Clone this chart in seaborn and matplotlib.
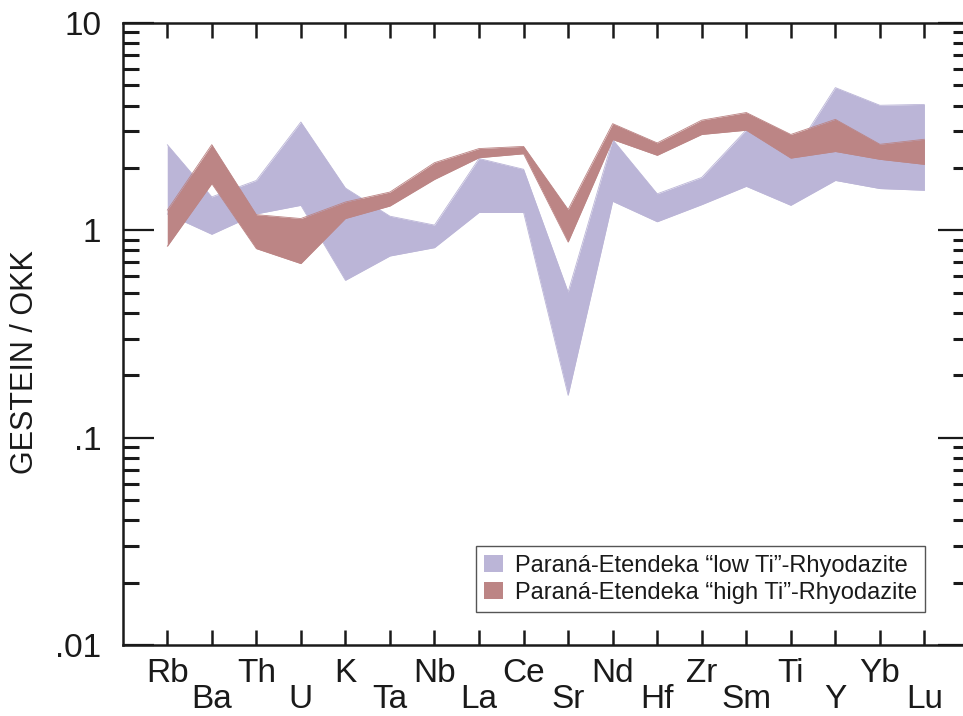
import numpy as np
import pandas as pd
import matplotlib
matplotlib.use("Agg")
import matplotlib.pyplot as plt
import seaborn as sns
from matplotlib.ticker import FixedLocator, NullFormatter

elements = ["Rb", "Ba", "Th", "U", "K", "Ta", "Nb", "La", "Ce", "Sr",
            "Nd", "Hf", "Zr", "Sm", "Ti", "Y", "Yb", "Lu"]

low_ti_upper = [2.59, 1.45, 1.74, 3.33, 1.60, 1.17, 1.06, 2.22, 1.97, 0.504,
                2.74, 1.50, 1.80, 3.05, 2.25, 4.88, 4.01, 4.05]
low_ti_lower = [1.20, 0.957, 1.20, 1.32, 0.574, 0.752, 0.825, 1.22, 1.22, 0.160,
                1.38, 1.10, 1.33, 1.63, 1.32, 1.74, 1.59, 1.56]

high_ti_upper = [1.25, 2.59, 1.19, 1.14, 1.37, 1.53, 2.12, 2.48, 2.54, 1.26,
                 3.27, 2.64, 3.40, 3.70, 2.90, 3.43, 2.60, 2.75]
high_ti_lower = [0.837, 1.68, 0.816, 0.691, 1.14, 1.31, 1.76, 2.24, 2.34, 0.878,
                 2.74, 2.30, 2.90, 3.04, 2.23, 2.40, 2.20, 2.08]

series_names = ["Paraná-Etendeka \u201clow Ti\u201d-Rhyodazite",
                "Paraná-Etendeka \u201chigh Ti\u201d-Rhyodazite"]
y_tick_values = [0.01, 0.1, 1, 10]
y_tick_labels = [".01", ".1", "1", "10"]
y_label = "GESTEIN / OKK"

colors = ["#BBB5D7", "#BC8585"]

sns.set_theme(style="ticks")
plt.rcParams["font.family"] = ["Liberation Sans", "DejaVu Sans"]
ink = "#1a1a1a"

W, H = 963, 716
fig = plt.figure(figsize=(W / 100, H / 100), dpi=100)
ax_left, ax_right, ax_top, ax_bottom = 122.7, 969.0, 23.0, 645.0
ax = fig.add_axes([ax_left / W, 1 - ax_bottom / H,
                   (ax_right - ax_left) / W, (ax_bottom - ax_top) / H])

x = np.arange(1, len(elements) + 1)
df = pd.DataFrame({
    "pos": np.concatenate([x, x, x, x]),
    "value": np.concatenate([low_ti_upper, low_ti_lower, high_ti_upper, high_ti_lower]),
    "edge": (["low_u"] * len(x) + ["low_l"] * len(x) + ["high_u"] * len(x) + ["high_l"] * len(x)),
})

bands = [(low_ti_lower, low_ti_upper), (high_ti_lower, high_ti_upper)]
edge_keys = [("low_u", "low_l"), ("high_u", "high_l")]
for (lo, hi), name, col, keys in zip(bands, series_names, colors, edge_keys):
    ax.fill_between(x, lo, hi, color=col, linewidth=0, label=name, zorder=2)
    sub = df[df["edge"].isin(keys)]
    sns.lineplot(data=sub, x="pos", y="value", units="edge", estimator=None,
                 color=col, linewidth=0.6, legend=False, ax=ax, zorder=2)

ax.set_yscale("log")
ax.set_ylim(0.01, 10)
ax.set_xlim(0, 19)
ax.set_xlabel("")

# y ticks
ax.yaxis.set_major_locator(FixedLocator(y_tick_values))
ax.set_yticklabels(y_tick_labels)
minor_vals = [m * 10.0 ** e for e in (-2, -1, 0) for m in range(2, 10)]
ax.yaxis.set_minor_locator(FixedLocator(minor_vals))
ax.yaxis.set_minor_formatter(NullFormatter())
ax.tick_params(axis="y", which="major", direction="in", length=22.3, width=1.6,
               left=True, right=True, labelsize=24, pad=15.5, colors=ink)
ax.tick_params(axis="y", which="minor", direction="in", length=11.5, width=2.2,
               left=True, right=True, colors=ink)

# x ticks: alternate label rows via major (upper row) / minor (lower row)
ax.xaxis.set_major_locator(FixedLocator(x[0::2]))
ax.set_xticklabels(elements[0::2])
ax.xaxis.set_minor_locator(FixedLocator(x[1::2]))
ax.set_xticklabels(elements[1::2], minor=True)
ax.tick_params(axis="x", which="major", direction="in", length=10.8, width=1.8,
               top=True, bottom=True, labelsize=24, pad=9.0, colors=ink)
ax.tick_params(axis="x", which="minor", direction="in", length=10.8, width=1.8,
               top=True, bottom=True, labelsize=24, pad=28.0, colors=ink)

for s in ax.spines.values():
    s.set_linewidth(1.8)
    s.set_color(ink)
ax.grid(False)
ax.set_facecolor("white")

ax.set_ylabel(y_label, fontsize=22, color=ink, va="center")
ax.yaxis.set_label_coords((25 - ax_left) / (ax_right - ax_left),
                          (ax_bottom - 362) / (ax_bottom - ax_top))

leg = ax.legend(loc="lower right",
                bbox_to_anchor=((925 - ax_left) / (ax_right - ax_left),
                                (ax_bottom - 612) / (ax_bottom - ax_top)),
                borderaxespad=0, fontsize=17, frameon=True, fancybox=False,
                handlelength=0.8, handleheight=0.75, handletextpad=0.5,
                borderpad=0.35, labelspacing=0.22)
leg.get_frame().set_edgecolor("#555555")
leg.get_frame().set_linewidth(1.0)
leg.get_frame().set_alpha(1)
for t in leg.get_texts():
    t.set_color(ink)

fig.savefig("out.png", dpi=100, facecolor="white")
